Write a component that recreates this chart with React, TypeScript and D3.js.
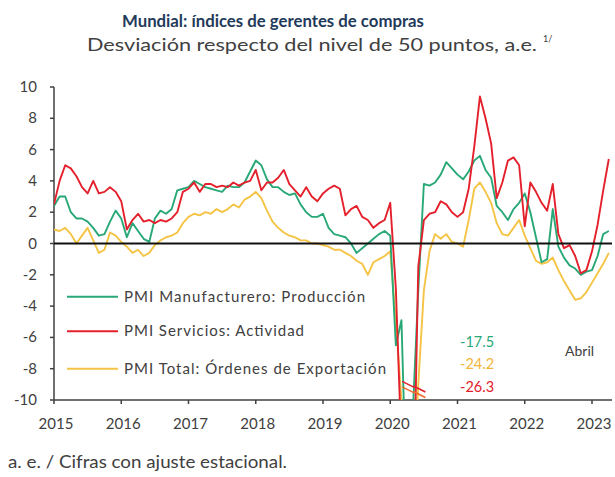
import React from 'react';
import * as d3 from 'd3';

// Monthly data, Jan 2015 – Apr 2023 (deviation from 50 points)
const startYear = 2015;
const yearTicks = [2015, 2016, 2017, 2018, 2019, 2020, 2021, 2022, 2023];
const yTicks = [10, 8, 6, 4, 2, 0, -2, -4, -6, -8, -10];

const manufacturing = [
  2.4, 3.0, 3.0, 2.0, 1.6, 1.6, 1.4, 1.0, 0.5, 0.6, 1.4, 2.1,
  1.6, 0.4, 1.3, 0.8, 0.3, 0.1, 1.6, 2.1, 1.9, 2.2, 3.4, 3.5,
  3.6, 4.0, 3.8, 3.6, 3.5, 3.4, 3.3, 3.7, 3.6, 3.6, 3.9, 4.6,
  5.3, 5.0, 4.1, 3.6, 3.6, 3.3, 3.1, 3.2, 2.5, 2.0, 1.7, 1.7,
  1.9, 1.0, 0.6, 0.5, 0.4, 0.0, -0.6, -0.3, 0.0, 0.3, 0.6, 0.8,
  0.5, -6.5, -4.9, -17.5, -11.0, -3.0, 3.8, 3.7, 3.9, 4.4, 5.2, 4.8,
  4.4, 4.1, 4.6, 5.3, 5.6, 4.7, 4.2, 2.4, 2.0, 1.5, 2.2, 2.6,
  3.2, 2.0, 0.4, -1.2, -1.0, 2.2, -0.2, -0.9, -1.4, -1.6, -2.0, -1.8,
  -1.7, -0.8, 0.6, 0.8,
];

const services = [
  2.5, 4.0, 5.0, 4.8, 4.3, 3.6, 3.2, 4.0, 3.2, 3.3, 3.6, 3.3,
  2.7, 0.9, 1.5, 1.9, 1.4, 1.5, 1.3, 1.5, 1.4, 1.6, 2.0, 3.3,
  3.5, 3.9, 3.3, 3.8, 3.8, 3.6, 3.7, 3.6, 3.9, 3.7, 3.9, 4.0,
  4.7, 3.4, 3.9, 3.9, 4.2, 4.7, 3.8, 3.4, 3.0, 3.6, 3.0, 2.7,
  3.2, 3.5, 3.7, 3.5, 1.8, 2.2, 2.4, 1.7, 1.5, 1.0, 1.3, 1.5,
  2.6, -2.9, -13.0, -26.3, -19.4, -1.5, 1.5, 1.9, 2.0, 2.7, 2.5, 2.0,
  1.7, 2.0, 3.5, 6.2, 9.4, 8.0, 6.4, 2.9, 3.9, 5.3, 5.5, 5.0,
  1.1, 3.9, 3.3, 2.6, 2.1, 3.8, 0.6, -0.3, -0.1, -0.8, -1.9, -1.7,
  -0.5, 1.2, 3.4, 5.4,
];

const exportOrders = [
  0.9, 0.8, 1.0, 0.6, 0.0, 0.5, 1.0, 0.2, -0.6, -0.4, 0.7, 0.5,
  0.1, -0.2, -0.6, -0.4, -0.8, -0.6, -0.1, 0.2, 0.4, 0.5, 0.7, 1.3,
  1.7, 1.9, 1.8, 2.0, 1.9, 2.2, 2.0, 2.2, 2.5, 2.3, 2.8, 3.0,
  3.3, 2.9, 2.1, 1.4, 1.0, 0.7, 0.5, 0.4, 0.2, 0.2, 0.0, 0.0,
  -0.1, -0.2, -0.4, -0.4, -0.6, -0.8, -1.1, -1.3, -2.0, -1.2, -1.0, -0.8,
  -0.5, -5.0, -10.0, -24.2, -16.0, -9.0, -3.0, -0.5, 0.6, 0.3, 0.6, 0.1,
  0.0, -0.2, 1.5, 3.5, 3.9, 3.3, 2.6, 1.3, 0.6, 0.5, 1.0, 1.5,
  0.5, -0.3, -1.1, -1.3, -1.2, -0.9, -1.7, -2.4, -3.0, -3.6, -3.5, -3.1,
  -2.5, -1.9, -1.3, -0.6,
];

const seriesNames = [
  'PMI Manufacturero: Producción',
  'PMI Servicios: Actividad',
  'PMI Total: Órdenes de Exportación',
];
const minLabels = ['-17.5', '-24.2', '-26.3'];

const GREEN = '#28a877';
const RED = '#e3202b';
const YELLOW = '#f5c445';
const LABEL_YELLOW = '#f2b53a';
const TEXT = '#404040';
const FONT = 'Lato, "Open Sans", sans-serif';

export default function App() {
  const W = 615;
  const H = 477;
  const left = 54;
  const right = 612;
  const top = 87;
  const bottom = 400;

  const x = d3.scaleLinear().domain([0, 96]).range([left, left + 538]);
  const y = d3.scaleLinear().domain([-10, 10]).range([bottom, top]);

  const line = d3
    .line<number>()
    .x((_, i) => x(i))
    .y((d) => y(d));

  const series = [
    { data: exportOrders, color: YELLOW },
    { data: manufacturing, color: GREEN },
    { data: services, color: RED },
  ];

  const legend = [
    { name: seriesNames[0], color: GREEN, v: -3.4, w: 241 },
    { name: seriesNames[1], color: RED, v: -5.6, w: 180 },
    { name: seriesNames[2], color: YELLOW, v: -8, w: 262 },
  ];

  const labels = [
    { t: minLabels[0], c: GREEN, v: -6.3 },
    { t: minLabels[1], c: LABEL_YELLOW, v: -7.7 },
    { t: minLabels[2], c: RED, v: -9.2 },
  ];

  // break marks around the clipped 2020 trough
  const breaks = [
    { m: 63.2, v: -9.0, c: RED },
    { m: 63.2, v: -9.35, c: '#ef6a2a' },
    { m: 65.2, v: -9.3, c: RED },
    { m: 65.2, v: -9.65, c: '#ef6a2a' },
  ];

  return (
    <svg
      width={W}
      height={H}
      style={{ position: 'absolute', left: 0, top: 0, background: '#fff' }}
      fontFamily={FONT}
    >
      <defs>
        <clipPath id="plotClip">
          <rect x={left} y={top - 5} width={right - left + 5} height={bottom - top + 5} />
        </clipPath>
      </defs>

      <text x={122} y={27} fontSize={17.5} fontWeight={700} fill="#1f3a5a" textLength={302} lengthAdjust="spacingAndGlyphs">
        Mundial: índices de gerentes de compras
      </text>
      <text x={87} y={51} fontSize={17} fill={TEXT} textLength={450} lengthAdjust="spacingAndGlyphs">
        Desviación respecto del nivel de 50 puntos, a.e.
      </text>
      <text x={543} y={42} fontSize={9} fill={TEXT}>
        1/
      </text>

      {/* y axis */}
      <line x1={left} x2={left} y1={top} y2={bottom} stroke={TEXT} strokeWidth={1.5} />
      {yTicks.map((t) => (
        <g key={t}>
          <line x1={left - 4} x2={left} y1={y(t)} y2={y(t)} stroke={TEXT} strokeWidth={1.5} />
          <text x={37} y={y(t) + 5} textAnchor="end" fontSize={15} fill={TEXT}>
            {t}
          </text>
        </g>
      ))}

      {/* x axis */}
      <line x1={left} x2={right} y1={bottom} y2={bottom} stroke={TEXT} strokeWidth={1.5} />
      {yearTicks.map((yr) => {
        const xx = x((yr - startYear) * 12);
        return (
          <g key={yr}>
            <line x1={xx} x2={xx} y1={bottom} y2={bottom + 4} stroke={TEXT} strokeWidth={1.5} />
            <text x={xx + 2} y={429} textAnchor="middle" fontSize={15} fill={TEXT}>
              {yr}
            </text>
          </g>
        );
      })}

      {/* series */}
      <g clipPath="url(#plotClip)">
        {series.map((s, i) => (
          <path key={i} d={line(s.data) || ''} fill="none" stroke={s.color} strokeWidth={1.9} strokeLinejoin="round" />
        ))}
      </g>

      {/* zero line */}
      <line x1={left} x2={right} y1={y(0)} y2={y(0)} stroke="#111" strokeWidth={2} />

      {/* break marks */}
      {breaks.map((b, i) => (
        <line
          key={i}
          x1={x(b.m) - 6}
          x2={x(b.m) + 6}
          y1={y(b.v) - 3}
          y2={y(b.v) + 3}
          stroke={b.c}
          strokeWidth={1.5}
        />
      ))}

      {/* legend */}
      {legend.map((l) => (
        <g key={l.name}>
          <line x1={67} x2={118} y1={y(l.v)} y2={y(l.v)} stroke={l.color} strokeWidth={2} />
          <text x={124} y={y(l.v) + 5} fontSize={15} fill={TEXT} textLength={l.w} lengthAdjust="spacing">
            {l.name}
          </text>
        </g>
      ))}

      {labels.map((l) => (
        <text key={l.t} x={460} y={y(l.v) + 5} fontSize={14.5} fill={l.c}>
          {l.t}
        </text>
      ))}
      <text x={565} y={y(-6.9) + 5} fontSize={14} fill={TEXT}>
        Abril
      </text>

      <text x={8} y={468} fontSize={17} fill={TEXT} textLength={279} lengthAdjust="spacingAndGlyphs">
        a. e. / Cifras con ajuste estacional.
      </text>
    </svg>
  );
}
